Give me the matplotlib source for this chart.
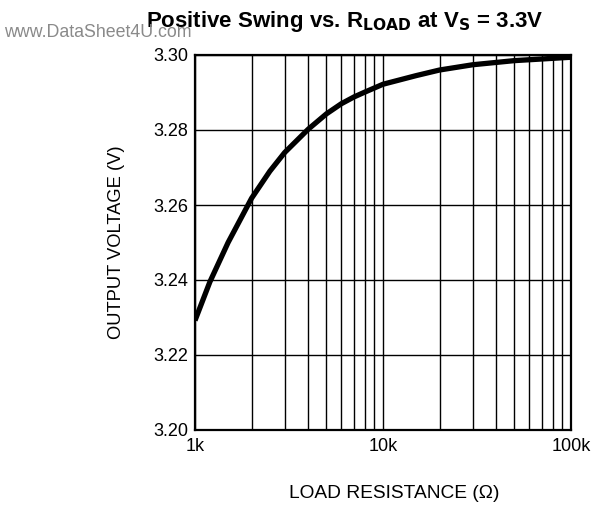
import numpy as np
import matplotlib.pyplot as plt
from matplotlib.ticker import FixedLocator, NullFormatter

plt.rcParams['font.family'] = ['Liberation Sans', 'DejaVu Sans']

# curve
rload = [1000, 1200, 1500, 2000, 2500, 3000, 4000, 5000, 6000, 7000,
         8000, 10000, 15000, 20000, 30000, 50000, 100000]
vout = [3.2292, 3.2395, 3.2500, 3.2618, 3.2690, 3.2740, 3.2802, 3.2843,
        3.2870, 3.2888, 3.2901, 3.2922, 3.2945, 3.2960, 3.2974, 3.2985,
        3.2994]

yticks = [3.20, 3.22, 3.24, 3.26, 3.28, 3.30]
xticks = [1000, 10000, 100000]
xticklabels = ['1k', '10k', '100k']

fig = plt.figure(figsize=(5.91, 5.05), dpi=100)
ax = fig.add_axes([195/591, 1 - 430/505, 376/591, 375/505])

ax.plot(rload, vout, color='black', lw=3.8, solid_capstyle='butt',
        solid_joinstyle='round', zorder=3)

ax.set_xscale('log')
ax.set_xlim(1000, 100000)
ax.set_ylim(3.20, 3.30)
ax.set_xticks(xticks)
ax.set_xticklabels(xticklabels)
minor = [m * d for d in (1000, 10000) for m in range(2, 10)]
ax.xaxis.set_minor_locator(FixedLocator(minor))
ax.xaxis.set_minor_formatter(NullFormatter())
ax.set_yticks(yticks)
ax.set_yticklabels(['%.2f' % v for v in yticks])

ax.grid(True, which='both', color='black', lw=1.0)
ax.tick_params(which='both', length=0, labelsize=13)
ax.tick_params(axis='x', pad=6)
ax.tick_params(axis='y', pad=5)
for s in ax.spines.values():
    s.set_linewidth(1.6)

ax.set_xlabel('LOAD RESISTANCE (Ω)', fontsize=13.8)
ax.xaxis.set_label_coords(0.529, -0.146)
ax.set_ylabel('OUTPUT VOLTAGE (V)', fontsize=13.2, labelpad=20)

fig.text(345/591, 1 - 27/505, r'Positive Swing vs. R$_{\mathbf{LOAD}}$ at V$_{\mathbf{S}}$ = 3.3V',
         ha='center', va='baseline', fontsize=16, fontweight='bold')
fig.text(4/591, 1 - 37/505, 'www.DataSheet4U.com', ha='left', va='baseline',
         fontsize=12.8, color='#8a8a8a')

fig.savefig('out.png', dpi=100)
